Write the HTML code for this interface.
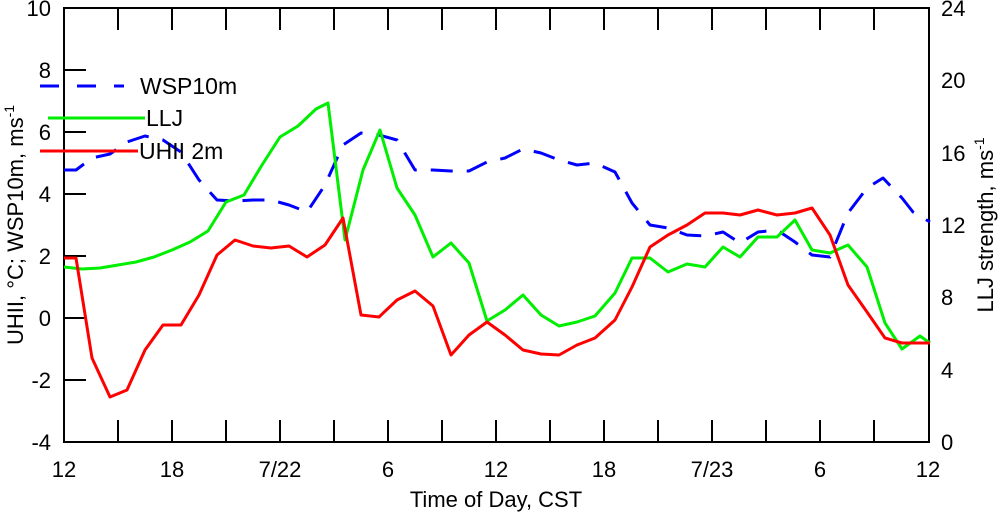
<!DOCTYPE html>
<html><head><style>body{margin:0;background:#fff}svg{display:block}text{font-family:"Liberation Sans",sans-serif;fill:#000}</style></head>
<body>
<svg width="1000" height="516" viewBox="0 0 1000 516">
<g stroke="#000" stroke-width="2" fill="none">
<rect x="64" y="8" width="865" height="434"/>
<path d="M118,442v-22M172,442v-22M226,442v-22M280,442v-22M334,442v-22M388,442v-22M442,442v-22M496,442v-22M550,442v-22M604,442v-22M658,442v-22M712,442v-22M766,442v-22M820,442v-22M874,442v-22
M118,8v22M172,8v22M226,8v22M280,8v22M334,8v22M388,8v22M442,8v22M496,8v22M550,8v22M604,8v22M658,8v22M712,8v22M766,8v22M820,8v22M874,8v22
M64,70h22M64,132h22M64,194h22M64,256h22M64,318h22M64,380h22"/>
</g>
<g stroke="#000" stroke-width="2" id="rticks"></g>
<g font-size="22" text-anchor="end">
<text x="51" y="16">10</text><text x="51" y="78">8</text><text x="51" y="140">6</text><text x="51" y="202">4</text><text x="51" y="264">2</text><text x="51" y="326">0</text><text x="51" y="388">-2</text><text x="51" y="450">-4</text>
</g>
<g font-size="22" text-anchor="start">
<text x="941" y="16">24</text><text x="941" y="88">20</text><text x="941" y="161">16</text><text x="941" y="233">12</text><text x="941" y="305">8</text><text x="941" y="378">4</text><text x="941" y="450">0</text>
</g>
<g font-size="22" text-anchor="middle">
<text x="64" y="477">12</text><text x="172" y="477">18</text><text x="280" y="477">7/22</text><text x="388" y="477">6</text><text x="496" y="477">12</text><text x="604" y="477">18</text><text x="712" y="477">7/23</text><text x="820" y="477">6</text><text x="928" y="477">12</text>
<text x="496" y="507">Time of Day, CST</text>
<text transform="translate(23,225) rotate(-90)">UHII, °C; WSP10m, ms<tspan font-size="14" dy="-9">-1</tspan></text>
<text transform="translate(993,225) rotate(-90)">LLJ strength, ms<tspan font-size="14" dy="-9">-1</tspan></text>
</g>
<g fill="none" stroke-width="3" stroke-linejoin="round">
<polyline stroke="#0000ff" stroke-dasharray="22,14" points="64,170 76,170 92,158 110,154 127,142 145,136 163,140 181,152 199,180 217,200 235,201 253,200 271,200 289,205 307,212 325,185 343,145 361,133 379,135 397,140 415,170 433,170 451,171 469,171 487,162 505,158 523,149 541,153 559,160 577,165 595,163 615,172 632,203 650,225 668,228 687,235 705,236 723,232 740,243 758,232 777,230 795,242 812,255 830,257 848,213 867,188 883,178 902,198 913,212 930,222"/>
<polyline stroke="#00ee00" points="64,267 82,269 100,268 118,265 136,262 154,257 172,250 190,242 208,231 226,202 244,195 262,165 280,137 298,126 316,109 328,103 345,240 363,170 380,130 397,188 415,215 433,257 451,243 469,263 487,321 505,310 523,295 541,315 559,326 577,322 595,316 615,293 632,258 650,258 668,272 687,264 705,267 723,247 740,257 758,237 777,237 795,220 812,250 830,253 848,245 867,267 885,323 902,349 920,336 930,343"/>
<polyline stroke="#ff0000" points="64,258 76,258 92,358 110,397 127,390 145,350 163,325 181,325 199,295 217,255 235,240 253,246 271,248 289,246 307,257 325,245 343,218 361,315 379,317 397,300 415,291 433,306 451,355 469,335 487,322 505,335 523,350 541,354 559,355 577,345 595,338 615,320 632,287 650,247 668,235 687,225 705,213 723,213 740,215 758,210 777,215 795,213 812,208 830,235 848,285 867,312 885,338 902,343 930,343"/>
<line x1="40" y1="86" x2="124" y2="86" stroke="#0000ff" stroke-dasharray="19,18"/>
<line x1="48" y1="118" x2="145" y2="118" stroke="#00ee00"/>
<line x1="40" y1="151" x2="138" y2="151" stroke="#ff0000"/>
</g>
<g font-size="23"><text x="140" y="94">WSP10m</text><text x="146" y="126">LLJ</text><text x="139" y="159">UHII 2m</text></g>
<script>
var g=document.getElementById('rticks'),s='';
for(var v=1;v<24;v++){var y=442-v*434/24,l=(v%4==0)?17:12;s+='<line x1="929" y1="'+y+'" x2="'+(929-l)+'" y2="'+y+'"/>';}
g.innerHTML=s;
</script>
</svg>
</body></html>
